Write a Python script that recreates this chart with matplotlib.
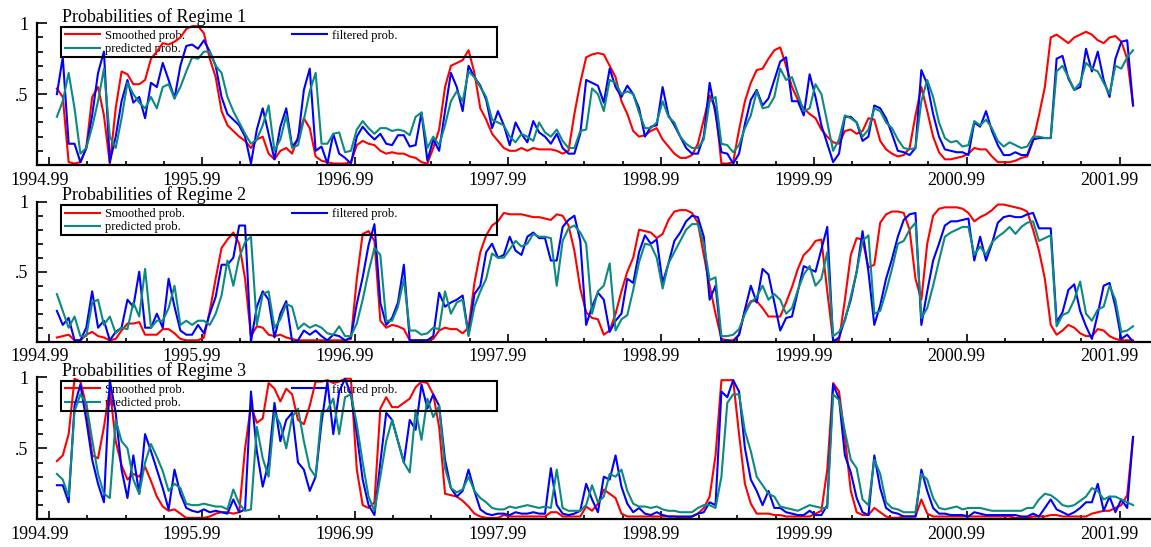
import numpy as np
import matplotlib
matplotlib.use("Agg")
import matplotlib.pyplot as plt
from matplotlib.patches import Rectangle
from matplotlib.ticker import FixedLocator, MultipleLocator
from matplotlib.transforms import ScaledTranslation

plt.rcParams['font.family'] = ['Liberation Serif', 'DejaVu Serif']

# time axis: one observation every two weeks, starting 1995.04
start_year = 1995.04
obs_per_year = 26

# regime probabilities in percent
r1_smoothed = [
    54, 48, 2, 1, 2, 12, 48, 55, 35, 1, 40, 66, 64, 57, 57, 60, 75, 80, 86, 85,
    87, 90, 96, 98, 98, 93, 75, 62, 38, 28, 24, 20, 17, 12, 18, 20, 8, 4, 10, 12,
    8, 20, 33, 26, 6, 3, 2, 1, 1, 1, 2, 14, 17, 15, 14, 10, 8, 9, 8, 8,
    6, 5, 2, 1, 12, 25, 55, 70, 72, 74, 81, 65, 40, 32, 22, 17,
    12, 10, 10, 12, 10, 12, 11, 11, 11, 10, 8, 10, 36, 58, 76, 78, 79, 78, 70, 62,
    45, 36, 24, 20, 21, 24, 26, 18, 13, 8, 5, 5, 7, 15, 32, 49, 40, 1, 1, 2,
    25, 45, 58, 67, 68, 75, 81, 83, 70, 55, 46, 40, 36, 33, 25, 20, 16, 15, 24, 25,
    22, 24, 33, 32, 17, 11, 8, 6, 7, 12, 35, 55, 38, 20, 9, 4, 4, 5, 6, 8,
    12, 11, 11, 6, 2, 2, 2, 3, 5, 6, 17, 35, 55, 90, 92, 89, 86, 90, 92, 94,
    92, 88, 86, 90, 91, 87, 75, 42]
r1_filtered = [
    50, 76, 15, 15, 2, 12, 35, 65, 80, 2, 20, 45, 60, 44, 48, 33, 58, 55, 72, 60,
    47, 70, 84, 85, 82, 88, 80, 70, 48, 36, 32, 28, 20, 1, 25, 40, 22, 4, 27, 40,
    13, 18, 53, 68, 10, 13, 1, 22, 8, 5, 1, 20, 27, 22, 18, 22, 15, 14, 21, 21,
    13, 14, 37, 3, 18, 10, 38, 65, 55, 38, 70, 62, 56, 46, 26, 38,
    28, 14, 30, 22, 16, 31, 23, 20, 15, 22, 12, 8, 8, 22, 60, 58, 56, 44, 68, 55,
    48, 56, 50, 40, 20, 27, 28, 55, 35, 28, 20, 12, 8, 8, 20, 58, 36, 9, 8, 1,
    8, 29, 46, 53, 42, 47, 60, 73, 76, 45, 45, 35, 64, 48, 28, 15, 2, 8, 34, 34,
    30, 17, 20, 42, 40, 33, 22, 10, 9, 7, 12, 67, 57, 36, 20, 11, 10, 9, 9, 7,
    30, 27, 38, 24, 14, 7, 7, 9, 7, 7, 18, 19, 19, 19, 75, 77, 61, 53, 55, 82,
    66, 80, 60, 48, 75, 87, 88, 42]
r1_predicted = [
    34, 45, 65, 40, 8, 12, 27, 45, 68, 20, 12, 33, 58, 50, 44, 40, 48, 40, 55, 57,
    47, 55, 66, 76, 75, 80, 80, 70, 65, 48, 38, 30, 22, 15, 18, 28, 42, 10, 18, 35,
    12, 14, 32, 52, 65, 15, 15, 22, 23, 9, 10, 25, 31, 26, 22, 26, 26, 24, 25, 24,
    21, 34, 37, 12, 20, 14, 28, 45, 52, 45, 66, 62, 55, 48, 32, 30,
    28, 20, 16, 22, 20, 17, 30, 23, 20, 25, 17, 12, 12, 24, 25, 54, 50, 38, 60, 58,
    50, 52, 50, 37, 26, 26, 30, 45, 34, 30, 20, 15, 12, 12, 18, 45, 48, 15, 14, 9,
    14, 26, 35, 52, 40, 41, 48, 68, 60, 62, 50, 38, 40, 57, 50, 30, 10, 18, 35, 33,
    30, 20, 25, 40, 38, 30, 26, 18, 12, 11, 12, 45, 60, 48, 30, 19, 16, 17, 13, 14,
    31, 28, 32, 26, 17, 13, 16, 14, 12, 13, 20, 20, 19, 19, 66, 70, 62, 53, 58, 72,
    68, 66, 58, 50, 70, 68, 76, 81]

r2_smoothed = [
    3, 4, 5, 1, 1, 5, 7, 4, 3, 1, 2, 8, 13, 13, 14, 5, 5, 5, 9, 9,
    6, 2, 1, 1, 1, 3, 22, 45, 67, 73, 78, 70, 45, 4, 11, 10, 5, 4, 5, 3,
    2, 1, 1, 1, 1, 1, 1, 1, 1, 1, 2, 45, 77, 79, 72, 15, 10, 12, 11, 9,
    1, 1, 1, 1, 2, 8, 10, 9, 9, 6, 10, 42, 64, 76, 83, 86,
    92, 91, 91, 91, 90, 89, 89, 88, 87, 91, 90, 83, 65, 38, 21, 17, 16, 5, 8, 20,
    36, 50, 60, 80, 79, 78, 74, 77, 87, 93, 94, 94, 92, 85, 62, 40, 20, 2, 1, 1,
    5, 22, 29, 29, 24, 18, 18, 18, 28, 39, 52, 62, 66, 72, 73, 36, 1, 1, 30, 62,
    74, 73, 53, 55, 85, 91, 93, 93, 92, 80, 45, 30, 70, 90, 95, 96, 96, 96, 95, 92,
    86, 89, 91, 94, 98, 98, 97, 96, 95, 93, 80, 65, 45, 12, 5, 8, 12, 10, 6, 4,
    4, 9, 8, 4, 2, 1, 1, 1]
r2_filtered = [
    22, 12, 17, 1, 1, 10, 36, 10, 15, 1, 7, 10, 30, 25, 50, 10, 10, 20, 10, 45,
    25, 8, 5, 5, 12, 6, 20, 32, 55, 55, 60, 83, 83, 0, 25, 36, 30, 3, 20, 29,
    0, 1, 8, 5, 8, 4, 1, 5, 4, 1, 3, 27, 46, 69, 84, 28, 12, 17, 28, 55,
    1, 1, 1, 1, 4, 35, 25, 28, 30, 33, 5, 34, 40, 64, 70, 60,
    62, 75, 65, 62, 75, 78, 74, 74, 58, 58, 82, 87, 90, 72, 12, 25, 35, 30, 7, 15,
    20, 45, 42, 64, 76, 70, 73, 42, 56, 72, 78, 86, 90, 89, 75, 30, 40, 0, 1, 0,
    5, 23, 40, 28, 52, 48, 28, 8, 17, 18, 36, 54, 52, 50, 66, 82, 0, 3, 16, 30,
    50, 79, 50, 12, 26, 45, 59, 75, 87, 91, 92, 12, 36, 58, 70, 83, 86, 86, 87, 88,
    58, 75, 58, 70, 85, 89, 90, 89, 89, 91, 92, 81, 81, 81, 14, 21, 37, 41, 22, 11,
    2, 20, 40, 42, 25, 2, 5, 0]
r2_predicted = [
    34, 22, 10, 18, 4, 4, 28, 30, 12, 18, 6, 10, 9, 28, 18, 52, 10, 15, 15, 24,
    40, 12, 15, 12, 15, 15, 12, 20, 33, 58, 40, 60, 71, 75, 12, 34, 36, 10, 16, 27,
    25, 9, 13, 10, 12, 10, 6, 5, 11, 4, 4, 13, 30, 50, 67, 62, 15, 15, 25, 45,
    8, 8, 5, 6, 10, 9, 36, 20, 28, 30, 4, 25, 36, 45, 63, 60,
    60, 66, 72, 68, 70, 77, 75, 75, 74, 40, 72, 81, 83, 78, 70, 20, 36, 40, 56, 8,
    16, 19, 37, 57, 70, 69, 60, 38, 56, 64, 72, 80, 84, 84, 70, 44, 46, 4, 4, 5,
    9, 20, 28, 32, 40, 30, 34, 30, 20, 24, 37, 48, 54, 40, 45, 64, 4, 7, 15, 32,
    50, 72, 76, 20, 22, 36, 52, 70, 72, 80, 85, 17, 24, 40, 58, 75, 78, 80, 82, 82,
    62, 68, 62, 71, 75, 78, 82, 77, 82, 85, 86, 72, 74, 76, 11, 19, 21, 30, 43, 20,
    15, 23, 25, 40, 30, 7, 8, 11]

r3_smoothed = [
    41, 45, 60, 99, 97, 80, 45, 43, 65, 92, 55, 38, 28, 32, 30, 37, 27, 16, 9, 6,
    7, 4, 1, 1, 1, 1, 2, 4, 5, 5, 4, 5, 50, 80, 68, 71, 96, 92, 83, 92,
    88, 70, 67, 80, 97, 97, 98, 96, 97, 99, 99, 35, 10, 8, 12, 78, 86, 79, 79, 82,
    85, 93, 97, 96, 88, 65, 18, 17, 16, 13, 9, 4, 2, 1, 1, 1,
    3, 2, 2, 2, 2, 2, 2, 2, 5, 5, 2, 2, 2, 2, 9, 6, 11, 21, 18, 15,
    4, 2, 2, 2, 2, 2, 2, 2, 2, 2, 1, 1, 2, 4, 8, 16, 45, 98, 98, 98,
    60, 25, 11, 4, 4, 4, 3, 3, 2, 2, 2, 2, 2, 4, 6, 35, 96, 90, 58, 20,
    5, 3, 3, 8, 5, 2, 1, 1, 2, 2, 2, 14, 4, 2, 2, 2, 2, 2, 2, 2,
    2, 2, 2, 2, 2, 2, 2, 1, 1, 1, 2, 2, 2, 3, 3, 2, 2, 2, 2, 2,
    4, 5, 6, 6, 8, 10, 17, 58]
r3_filtered = [
    24, 24, 12, 80, 95, 70, 42, 25, 12, 98, 75, 35, 15, 45, 18, 60, 48, 35, 22, 7,
    35, 18, 8, 6, 5, 7, 5, 6, 5, 4, 14, 5, 7, 90, 48, 23, 40, 82, 55, 70,
    75, 40, 35, 20, 30, 68, 97, 60, 90, 99, 88, 60, 28, 10, 3, 40, 75, 70, 55, 40,
    70, 63, 95, 78, 88, 80, 42, 22, 16, 20, 35, 20, 7, 4, 3, 4,
    4, 3, 5, 4, 4, 5, 4, 4, 36, 10, 4, 3, 4, 6, 25, 14, 5, 30, 28, 45,
    23, 11, 5, 8, 4, 3, 5, 3, 2, 2, 2, 2, 2, 4, 5, 12, 10, 90, 86, 98,
    90, 50, 28, 20, 10, 20, 8, 8, 5, 4, 3, 3, 6, 3, 3, 10, 95, 85, 45, 33,
    15, 5, 3, 45, 22, 8, 5, 4, 2, 2, 2, 35, 20, 8, 4, 4, 3, 3, 3, 2,
    5, 4, 3, 3, 3, 3, 3, 3, 2, 2, 4, 2, 8, 14, 7, 5, 3, 5, 8, 12,
    12, 25, 6, 16, 5, 14, 8, 58]
r3_predicted = [
    32, 28, 16, 76, 88, 82, 56, 32, 18, 15, 70, 55, 50, 28, 18, 40, 53, 44, 34, 20,
    25, 22, 11, 10, 10, 11, 10, 9, 9, 7, 21, 11, 6, 7, 65, 43, 30, 75, 67, 50,
    72, 78, 55, 36, 30, 75, 77, 85, 60, 86, 88, 67, 40, 16, 6, 30, 55, 70, 55, 40,
    33, 77, 56, 85, 72, 80, 36, 22, 19, 21, 30, 20, 15, 12, 8, 7,
    7, 9, 8, 9, 10, 9, 8, 9, 8, 35, 8, 6, 6, 6, 10, 24, 12, 16, 32, 30,
    35, 20, 11, 9, 9, 8, 9, 7, 6, 6, 5, 5, 5, 8, 10, 10, 8, 30, 82, 88,
    88, 62, 48, 30, 24, 18, 16, 9, 8, 7, 6, 8, 10, 9, 8, 8, 88, 84, 62, 42,
    36, 14, 10, 42, 32, 12, 8, 7, 5, 5, 5, 32, 28, 15, 8, 7, 8, 9, 7, 8,
    8, 8, 7, 6, 6, 6, 6, 6, 6, 8, 8, 14, 18, 17, 14, 10, 9, 10, 13, 16,
    22, 20, 14, 16, 16, 14, 12, 10]

panels = [
    ("Probabilities of Regime 1", r1_smoothed, r1_filtered, r1_predicted),
    ("Probabilities of Regime 2", r2_smoothed, r2_filtered, r2_predicted),
    ("Probabilities of Regime 3", r3_smoothed, r3_filtered, r3_predicted),
]
series_labels = ["Smoothed prob.", "filtered prob.", "predicted prob."]
series_colors = ["#ff0000", "#0000ff", "#0a8a80"]

year_ticks = [1994.99 + i for i in range(8)]
quarter_ticks = [1994.99 + 0.25 * i for i in range(30)]

n_obs = len(r1_smoothed)
t = start_year + np.arange(n_obs) / obs_per_year

fig = plt.figure(figsize=(11.51, 5.47), dpi=100)
# [left, bottom, width, height] of each panel in figure fractions
boxes = [
    [0.0321, 0.6984, 0.9670, 0.2590],
    [0.0321, 0.3753, 0.9670, 0.2559],
    [0.0321, 0.0506, 0.9670, 0.2596],
]
# year labels sit a little left of their tick marks
label_shift = ScaledTranslation(-10 / 100, 0, fig.dpi_scale_trans)

for (title, sm, fi, pr), box in zip(panels, boxes):
    ax = fig.add_axes(box)
    lines = []
    for vals, lab, col in zip((sm, fi, pr), series_labels, series_colors):
        ln, = ax.plot(t, np.array(vals) / 100.0, color=col, lw=1.5,
                      label=lab, zorder=2)
        lines.append(ln)

    ax.set_xlim(1994.9096, 2002.189)
    ax.set_ylim(0, 1)

    for side in ("top", "right"):
        ax.spines[side].set_visible(False)
    for side in ("left", "bottom"):
        ax.spines[side].set_linewidth(1.6)
        ax.spines[side].set_zorder(4)

    ax.xaxis.set_major_locator(FixedLocator(year_ticks))
    ax.xaxis.set_minor_locator(FixedLocator(quarter_ticks))
    ax.set_xticklabels(["%.2f" % y for y in year_ticks])
    ax.yaxis.set_major_locator(FixedLocator([0.5, 1.0]))
    ax.yaxis.set_minor_locator(MultipleLocator(0.1))
    ax.set_yticklabels([".5", "1"])

    ax.tick_params(axis="x", which="major", direction="in", length=6,
                   width=1.2, labelsize=13, pad=4.7)
    ax.tick_params(axis="x", which="minor", direction="in", length=3,
                   width=1.2)
    ax.tick_params(axis="y", which="major", direction="in", length=7,
                   width=1.2, labelsize=13, pad=6)
    ax.tick_params(axis="y", which="minor", direction="in", length=4.5,
                   width=1.2)
    for lbl in ax.get_xticklabels():
        lbl.set_transform(lbl.get_transform() + label_shift)

    ax.text(0.0225, 1.012, title, transform=ax.transAxes, fontsize=13,
            ha="left", va="baseline")

    # legend text sits under the curves, the box is drawn on top
    leg = ax.legend([lines[0], lines[2], lines[1]],
                    [series_labels[0], series_labels[2], series_labels[1]],
                    ncol=2, loc="upper left", bbox_to_anchor=(0.0252, 0.955),
                    frameon=False, fontsize=9, handlelength=2.8,
                    handletextpad=0.4, columnspacing=8.6, labelspacing=0.1,
                    borderpad=0, borderaxespad=0)
    leg.set_zorder(1)
    ax.add_patch(Rectangle((0.0215, 0.762), 0.3915, 0.212,
                           transform=ax.transAxes, fill=False,
                           edgecolor="black", lw=1.5, zorder=3))

fig.savefig("out.png", dpi=100)
